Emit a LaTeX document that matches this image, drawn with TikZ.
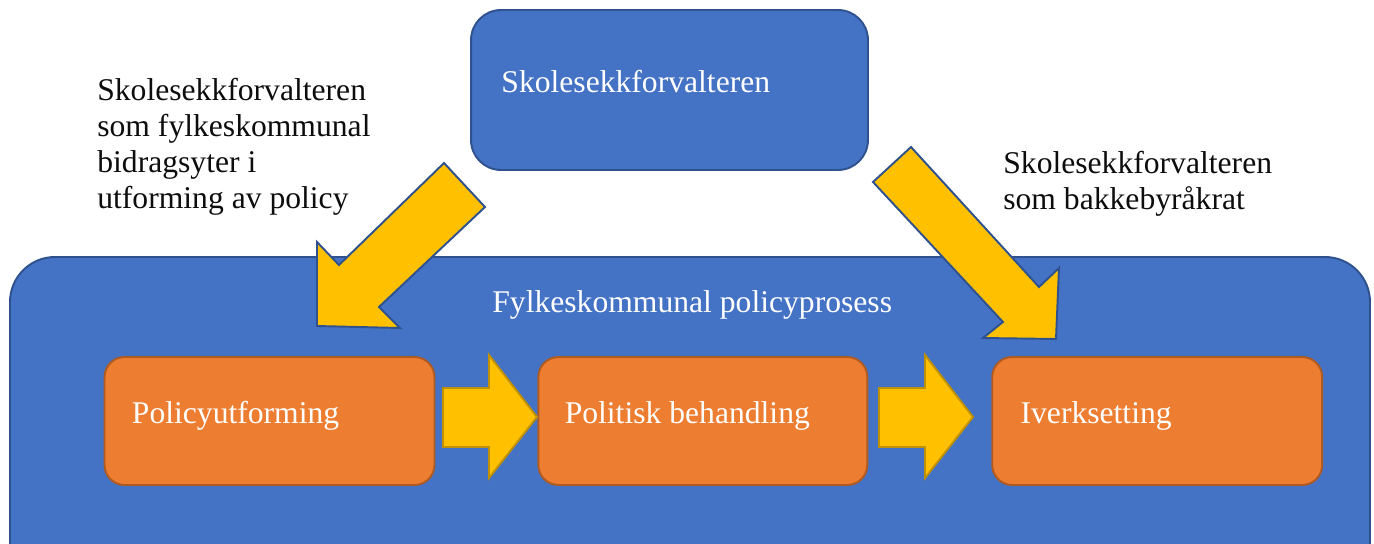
\documentclass[tikz,border=0pt]{standalone}
\usepackage{fontspec}
\setmainfont{Liberation Serif}
\newfontfamily\sidefont{Liberation Serif}
\usepackage{tikz}
\usetikzlibrary{positioning}

\definecolor{boxblue}{HTML}{4472C4}
\definecolor{blueline}{HTML}{2F528F}
\definecolor{stageorange}{HTML}{ED7D31}
\definecolor{orangeline}{HTML}{AE5A21}
\definecolor{arrowyellow}{HTML}{FFC000}
\definecolor{yellowline}{HTML}{BF9000}
\definecolor{sidetext}{HTML}{0D0D0D}

\begin{document}
\begin{tikzpicture}[x=0.02cm, y=-0.02cm, node distance=2cm,
    bluebox/.style={draw=blueline, fill=boxblue, line width=1.1pt},
    stage/.style={draw=orangeline, fill=stageorange, line width=1.1pt, rounded corners=0.4cm,
                  minimum width=6.6cm, minimum height=2.56cm, inner sep=0pt},
    lbl/.style={inner sep=0pt, text=sidetext, font=\sidefont\fontsize{18}{20.6}\selectfont, align=left},
    wlbl/.style={lbl, text=white},
    diagarrow/.style={draw=blueline, fill=arrowyellow, line width=1.1pt, line join=miter},
    flowarrow/.style={draw=yellowline, fill=arrowyellow, line width=1.1pt, line join=miter}]
   \useasboundingbox (0,0) rectangle (1374,544);
   \clip (0,0) rectangle (1374,544);

   % outer process box, cut off at the bottom
   \draw[bluebox, rounded corners=0.9cm] (10,257) rectangle (1370,640);
   \node[wlbl, anchor=base west] (process) at (492,313) {Fylkeskommunal policyprosess};

   % top box
   \node[bluebox, rounded corners=0.6cm, minimum width=7.94cm, minimum height=3.2cm] (top) at (669.5,90) {};
   \node[wlbl, anchor=base west] (toplbl) at ([shift={(31,3)}]top.west) {Skolesekkforvalteren};

   % side texts (base = last line)
   \node[lbl, anchor=base west] (leftlbl) at (97,209) {Skolesekkforvalteren\\som fylkeskommunal\\bidragsyter i\\utforming av policy};
   \node[lbl, anchor=base west] (rightlbl) at (1003,210) {Skolesekkforvalteren\\som bakkebyråkrat};

   % diagonal arrows
   \draw[diagarrow] (444,163) -- (485,207) -- (379,307) -- (400,328) -- (317,326) -- (317,242) -- (339,265) -- cycle;
   \draw[diagarrow] (873,182) -- (911,147) -- (1039,287) -- (1059,268) -- (1056,339) -- (983,338) -- (1003,322) -- cycle;

   % stages
   \node[stage] (utf) at (269.5,421) {};
   \node[stage, minimum width=6.58cm] (pol) [right=2.04cm of utf] {};
   \node[stage] (ive) [right=2.46cm of pol] {};
   \node[wlbl, anchor=base west] at ([shift={(28,2)}]utf.west) {Policyutforming};
   \node[wlbl, anchor=base west] at ([shift={(27,2)}]pol.west) {Politisk behandling};
   \node[wlbl, anchor=base west] at ([shift={(29,2)}]ive.west) {Iverksetting};

   % flow arrows
   \draw[flowarrow] (443,388) -- (489,388) -- (489,355) -- (537,417) -- (489,478) -- (489,447) -- (443,447) -- cycle;
   \draw[flowarrow] (879,388) -- (925,388) -- (925,355) -- (973,417) -- (925,478) -- (925,447) -- (879,447) -- cycle;
\end{tikzpicture}
\end{document}
